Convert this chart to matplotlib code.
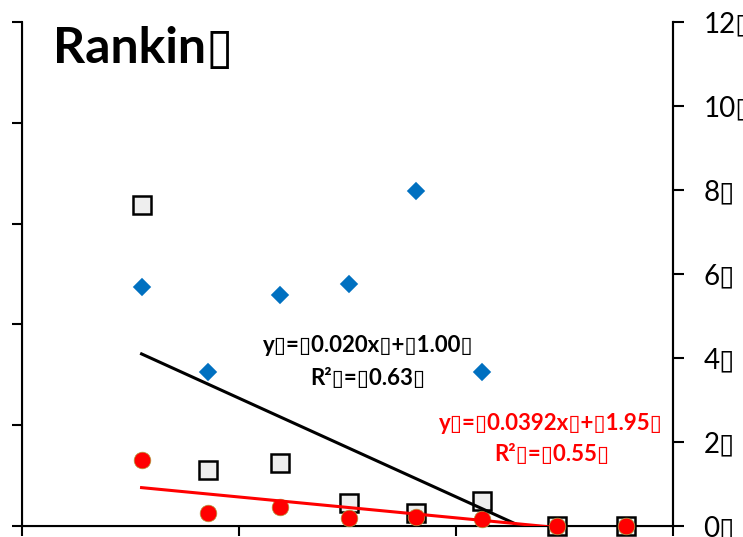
import numpy as np
import matplotlib
matplotlib.use("Agg")
from matplotlib import pyplot as plt

plt.rcParams['font.family'] = ['Lato', 'DejaVu Sans']

# Posiciones en x (sin etiquetas visibles) y valores
x = [0.551, 0.857, 1.189, 1.505, 1.816, 2.120, 2.465, 2.783]
cuadrados = [7.64, 1.33, 1.50, 0.55, 0.31, 0.60, 0.0, 0.0]
circulos = [1.56, 0.32, 0.45, 0.19, 0.21, 0.17, 0.0, 0.0]
x_rombos = x[:6]
rombos = [5.70, 3.67, 5.50, 5.76, 7.98, 3.67]

# los recuadros del original (glifos que faltan) se dibujan con ▯
etiquetas_der = ['0▯', '2▯', '4▯', '6▯', '8▯', '10▯', '12▯']
titulo = 'Rankin▯'
ec_negra = ['y▯=▯0.020x▯+▯1.00▯', 'R²▯=▯0.63▯']
ec_roja = ['y▯=▯0.0392x▯+▯1.95▯', 'R²▯=▯0.55▯']

fig = plt.figure(figsize=(7.43, 5.37), dpi=100)
ax = fig.add_axes([22/743, 11/537, 651/743, 504/537])
ax.set_xlim(0, 3)
ax.set_ylim(0, 5)
ax.set_xticks([0, 1, 2, 3])
ax.set_yticks(range(6))
ax.set_xticklabels([])
ax.set_yticklabels([])
ax.spines['top'].set_visible(False)
for s in ['left', 'bottom', 'right']:
    ax.spines[s].set_linewidth(1.5)
ax.tick_params(direction='out', length=7.5, width=1.5)

ax2 = ax.twinx()
ax2.set_ylim(0, 12)
ax2.set_yticks(range(0, 13, 2))
ax2.set_yticklabels(etiquetas_der, fontsize=20)
ax2.spines['top'].set_visible(False)
ax2.spines['right'].set_linewidth(1.5)
ax2.tick_params(direction='out', length=8, width=1.5, pad=14)

# Series
ax2.plot(x, cuadrados, 's', ms=12.5, mfc='#eeeeee', mec='black', mew=1.8,
         zorder=3, clip_on=False)
ax2.plot(x, circulos, 'o', ms=12, mfc='#ff0000', mec='#b0a040', mew=0.5,
         zorder=4, clip_on=False)
ax2.plot(x_rombos, rombos, 'D', ms=7.8, mfc='#0070c0', mec='#0070c0',
         mew=1.2, zorder=4)

# Lineas de tendencia
xs = np.array([x[0], x[-1]])
p_neg = np.polyfit(x, cuadrados, 1)
p_roj = np.polyfit(x, circulos, 1)
ax2.plot(xs, np.polyval(p_neg, xs), color='black', lw=2.2, zorder=5)
ax2.plot(xs, np.polyval(p_roj, xs), color='#ff0000', lw=2.2, zorder=5)

# Textos
fig.text(53/743, 1 - 63/537, titulo, fontsize=36, fontweight='bold',
         ha='left', va='baseline')
fig.text(368/743, 1 - 345/537, ec_negra[0], fontsize=16, fontweight='bold',
         ha='center', va='center')
fig.text(368/743, 1 - 378/537, ec_negra[1], fontsize=16, fontweight='bold',
         ha='center', va='center')
fig.text(551/743, 1 - 423/537, ec_roja[0], fontsize=16, fontweight='bold',
         color='#ff0000', ha='center', va='center')
fig.text(552/743, 1 - 455/537, ec_roja[1], fontsize=16, fontweight='bold',
         color='#ff0000', ha='center', va='center')

fig.savefig('out.png', dpi=100)
